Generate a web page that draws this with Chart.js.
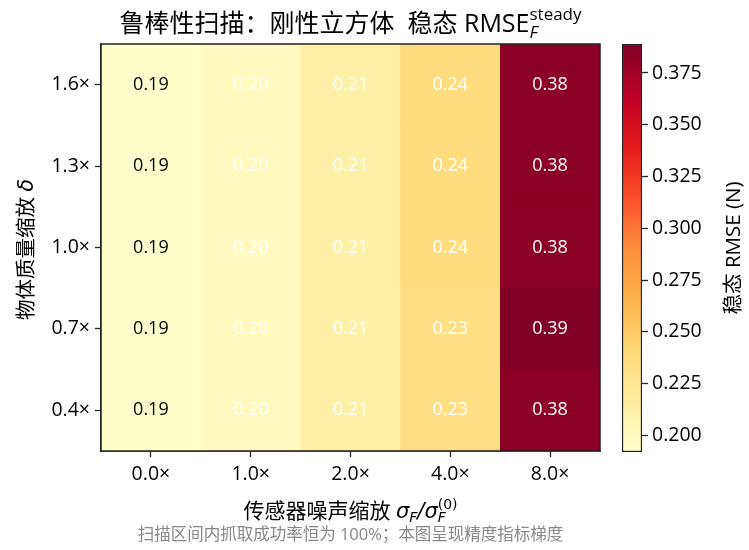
<!DOCTYPE html>
<html>
<head>
<meta charset="utf-8">
<script src="https://cdn.jsdelivr.net/npm/chart.js@4"></script>
<style>
  body { margin: 0; background: #fff; }
  #wrap { position: relative; width: 749px; height: 550px; }
  #heat { position: absolute; left: 0; top: 0; }
  #cbar { position: absolute; left: 610px; top: 0; }
</style>
</head>
<body>
<div id="wrap">
  <canvas id="heat" width="749" height="550"></canvas>
  <canvas id="cbar" width="139" height="550"></canvas>
</div>
<script>
// 横轴：传感器噪声缩放，纵轴：物体质量缩放（自下而上）
const noiseLabels = ['0.0×', '1.0×', '2.0×', '4.0×', '8.0×'];
const massLabels = ['0.4×', '0.7×', '1.0×', '1.3×', '1.6×'];

// 稳态 RMSE (N)，每行对应一个质量缩放
const rmse04 = [0.192, 0.200, 0.212, 0.233, 0.384];
const rmse07 = [0.192, 0.200, 0.212, 0.233, 0.389];
const rmse10 = [0.192, 0.200, 0.212, 0.236, 0.384];
const rmse13 = [0.192, 0.200, 0.212, 0.236, 0.384];
const rmse16 = [0.192, 0.200, 0.212, 0.236, 0.384];
const rows = [rmse04, rmse07, rmse10, rmse13, rmse16];

const cbTicks = [0.200, 0.225, 0.250, 0.275, 0.300, 0.325, 0.350, 0.375];

const FONT = '"Open Sans", "Noto Sans CJK SC", sans-serif';
const INK = '#222';

const vmin = Math.min(...rows.flat());
const vmax = Math.max(...rows.flat());

// YlOrRd
const ylorrd = ['#ffffcc', '#ffeda0', '#fed976', '#feb24c', '#fd8d3c', '#fc4e2a', '#e31a1c', '#bd0026', '#800026'];
function hex2rgb(h) {
  return [parseInt(h.substr(1, 2), 16), parseInt(h.substr(3, 2), 16), parseInt(h.substr(5, 2), 16)];
}
function cmap(v) {
  let t = (v - vmin) / (vmax - vmin);
  t = Math.max(0, Math.min(1, t)) * (ylorrd.length - 1);
  const i = Math.min(Math.floor(t), ylorrd.length - 2);
  const f = t - i;
  const a = hex2rgb(ylorrd[i]), b = hex2rgb(ylorrd[i + 1]);
  const c = a.map((x, k) => Math.round(x + (b[k] - x) * f));
  return 'rgb(' + c.join(',') + ')';
}

// 带上下标的文字（stack: 与前一段叠放，如同时有上下标）
function richText(ctx, parts, x, y, align) {
  let w = 0, prevW = 0;
  parts.forEach(p => {
    ctx.font = p.font;
    p.w = ctx.measureText(p.text).width;
    if (p.stack) { w += Math.max(0, p.w - prevW); prevW = Math.max(p.w, prevW); }
    else { w += p.w; prevW = p.w; }
  });
  let cx = align === 'center' ? x - w / 2 : x;
  let lastX = cx;
  ctx.textAlign = 'left';
  ctx.textBaseline = 'alphabetic';
  parts.forEach(p => {
    ctx.font = p.font;
    const px = p.stack ? lastX : cx;
    ctx.fillText(p.text, px, y + (p.dy || 0));
    if (!p.stack) { lastX = cx; cx += p.w; }
  });
}

const decor = {
  id: 'decor',
  afterDraw(chart) {
    const ctx = chart.ctx;
    const a = chart.chartArea;
    const xs = chart.scales.x, ys = chart.scales.y;
    ctx.save();

    // 单元格数值
    ctx.font = '18px ' + FONT;
    ctx.textAlign = 'center';
    ctx.textBaseline = 'middle';
    rows.forEach((r, i) => {
      r.forEach((v, j) => {
        ctx.fillStyle = v > 0.196 ? '#fff' : '#000';
        ctx.fillText(v.toFixed(2), xs.getPixelForValue(j), ys.getPixelForValue(i + 0.5));
      });
    });

    // 边框
    ctx.strokeStyle = INK;
    ctx.lineWidth = 1.5;
    ctx.strokeRect(a.left, a.top, a.right - a.left, a.bottom - a.top);

    ctx.fillStyle = '#000';
    const mid = (a.left + a.right) / 2;
    // 标题
    richText(ctx, [
      { text: '鲁棒性扫描：刚性立方体  稳态 RMSE', font: '25px ' + FONT },
      { text: 'F', font: 'italic 17px ' + FONT, dy: 6 },
      { text: 'steady', font: '17px ' + FONT, dy: -12, stack: true }
    ], mid, 32, 'center');

    // 横轴标题
    richText(ctx, [
      { text: '传感器噪声缩放 ', font: '21px ' + FONT },
      { text: 'σ', font: 'italic 21px DejaVu Sans' },
      { text: 'F', font: 'italic 14px DejaVu Sans', dy: 4 },
      { text: '/', font: 'italic 21px DejaVu Sans' },
      { text: 'σ', font: 'italic 21px DejaVu Sans' },
      { text: 'F', font: 'italic 14px DejaVu Sans', dy: 4 },
      { text: '(0)', font: '14px DejaVu Sans', dy: -9, stack: true }
    ], mid, 518, 'center');

    // 纵轴标题
    ctx.save();
    ctx.translate(26, (a.top + a.bottom) / 2 + 2);
    ctx.rotate(-Math.PI / 2);
    richText(ctx, [
      { text: '物体质量缩放 ', font: '20.5px ' + FONT },
      { text: 'δ', font: 'italic 20.5px DejaVu Sans' }
    ], 0, 7, 'center');
    ctx.restore();

    // 脚注
    ctx.fillStyle = '#888';
    ctx.font = '16.5px ' + FONT;
    ctx.textAlign = 'center';
    ctx.textBaseline = 'middle';
    ctx.fillText('扫描区间内抓取成功率恒为 100%；本图呈现精度指标梯度', mid, 535);
    ctx.restore();
  }
};

new Chart(document.getElementById('heat'), {
  type: 'bar',
  data: {
    labels: noiseLabels,
    datasets: rows.map((r, i) => ({
      label: massLabels[i],
      data: r.map(() => [i, i + 1]),
      backgroundColor: r.map(cmap),
      borderColor: r.map(cmap),
      borderWidth: 0.5,
      borderSkipped: false,
      barPercentage: 1,
      categoryPercentage: 1,
      grouped: false
    }))
  },
  options: {
    responsive: false,
    animation: false,
    devicePixelRatio: 1,
    layout: { padding: { left: 0, top: 44, right: 149, bottom: 0 } },
    plugins: { legend: { display: false }, tooltip: { enabled: false }, title: { display: false } },
    scales: {
      x: {
        grid: { display: true, drawOnChartArea: false, offset: false, tickLength: 6, tickColor: INK, tickWidth: 1.3 },
        border: { display: true, color: INK, width: 1.5 },
        ticks: { color: '#000', font: { family: FONT, size: 19.5 }, padding: 6 },
        afterFit(s) { s.height = 99; }
      },
      y: {
        min: 0,
        max: massLabels.length,
        grid: { display: true, drawOnChartArea: false, tickLength: 6, tickColor: INK, tickWidth: 1.3 },
        border: { display: true, color: INK, width: 1.5 },
        afterBuildTicks(s) { s.ticks = massLabels.map((_, i) => ({ value: i + 0.5 })); },
        ticks: {
          color: '#000',
          font: { family: FONT, size: 19.5 },
          padding: 5,
          callback: (v, i) => massLabels[i]
        },
        afterFit(s) { s.width = 101; }
      }
    }
  },
  plugins: [decor]
});

// 色条
const cbLabel = {
  id: 'cbLabel',
  afterDraw(chart) {
    const ctx = chart.ctx;
    const a = chart.chartArea;
    ctx.save();
    ctx.translate(124, (a.top + a.bottom) / 2);
    ctx.rotate(-Math.PI / 2);
    ctx.fillStyle = '#000';
    ctx.font = '20.5px ' + FONT;
    ctx.textAlign = 'center';
    ctx.textBaseline = 'middle';
    ctx.fillText('稳态 RMSE (N)', 0, 0);
    ctx.restore();
  }
};

new Chart(document.getElementById('cbar'), {
  type: 'bar',
  data: {
    labels: [''],
    datasets: [{
      data: [[vmin, vmax]],
      backgroundColor(c) {
        const a = c.chart.chartArea;
        if (!a) return ylorrd[0];
        const g = c.chart.ctx.createLinearGradient(0, a.bottom, 0, a.top);
        ylorrd.forEach((col, k) => g.addColorStop(k / (ylorrd.length - 1), col));
        return g;
      },
      borderColor: INK,
      borderWidth: 1.5,
      borderSkipped: false,
      barPercentage: 1,
      categoryPercentage: 1
    }]
  },
  options: {
    responsive: false,
    animation: false,
    devicePixelRatio: 1,
    layout: { padding: { left: 12, top: 44, right: 0, bottom: 0 } },
    plugins: { legend: { display: false }, tooltip: { enabled: false } },
    scales: {
      x: { display: false, afterFit(s) { s.height = 98; } },
      y: {
        position: 'right',
        min: vmin,
        max: vmax,
        grid: { display: true, drawOnChartArea: false, tickLength: 6, tickColor: INK, tickWidth: 1.3 },
        border: { display: false },
        afterBuildTicks(s) { s.ticks = cbTicks.map(v => ({ value: v })); },
        ticks: {
          color: '#000',
          font: { family: FONT, size: 19.5 },
          padding: 4,
          callback: v => v.toFixed(3)
        },
        afterFit(s) { s.width = 107; }
      }
    }
  },
  plugins: [cbLabel]
});
</script>
</body>
</html>
